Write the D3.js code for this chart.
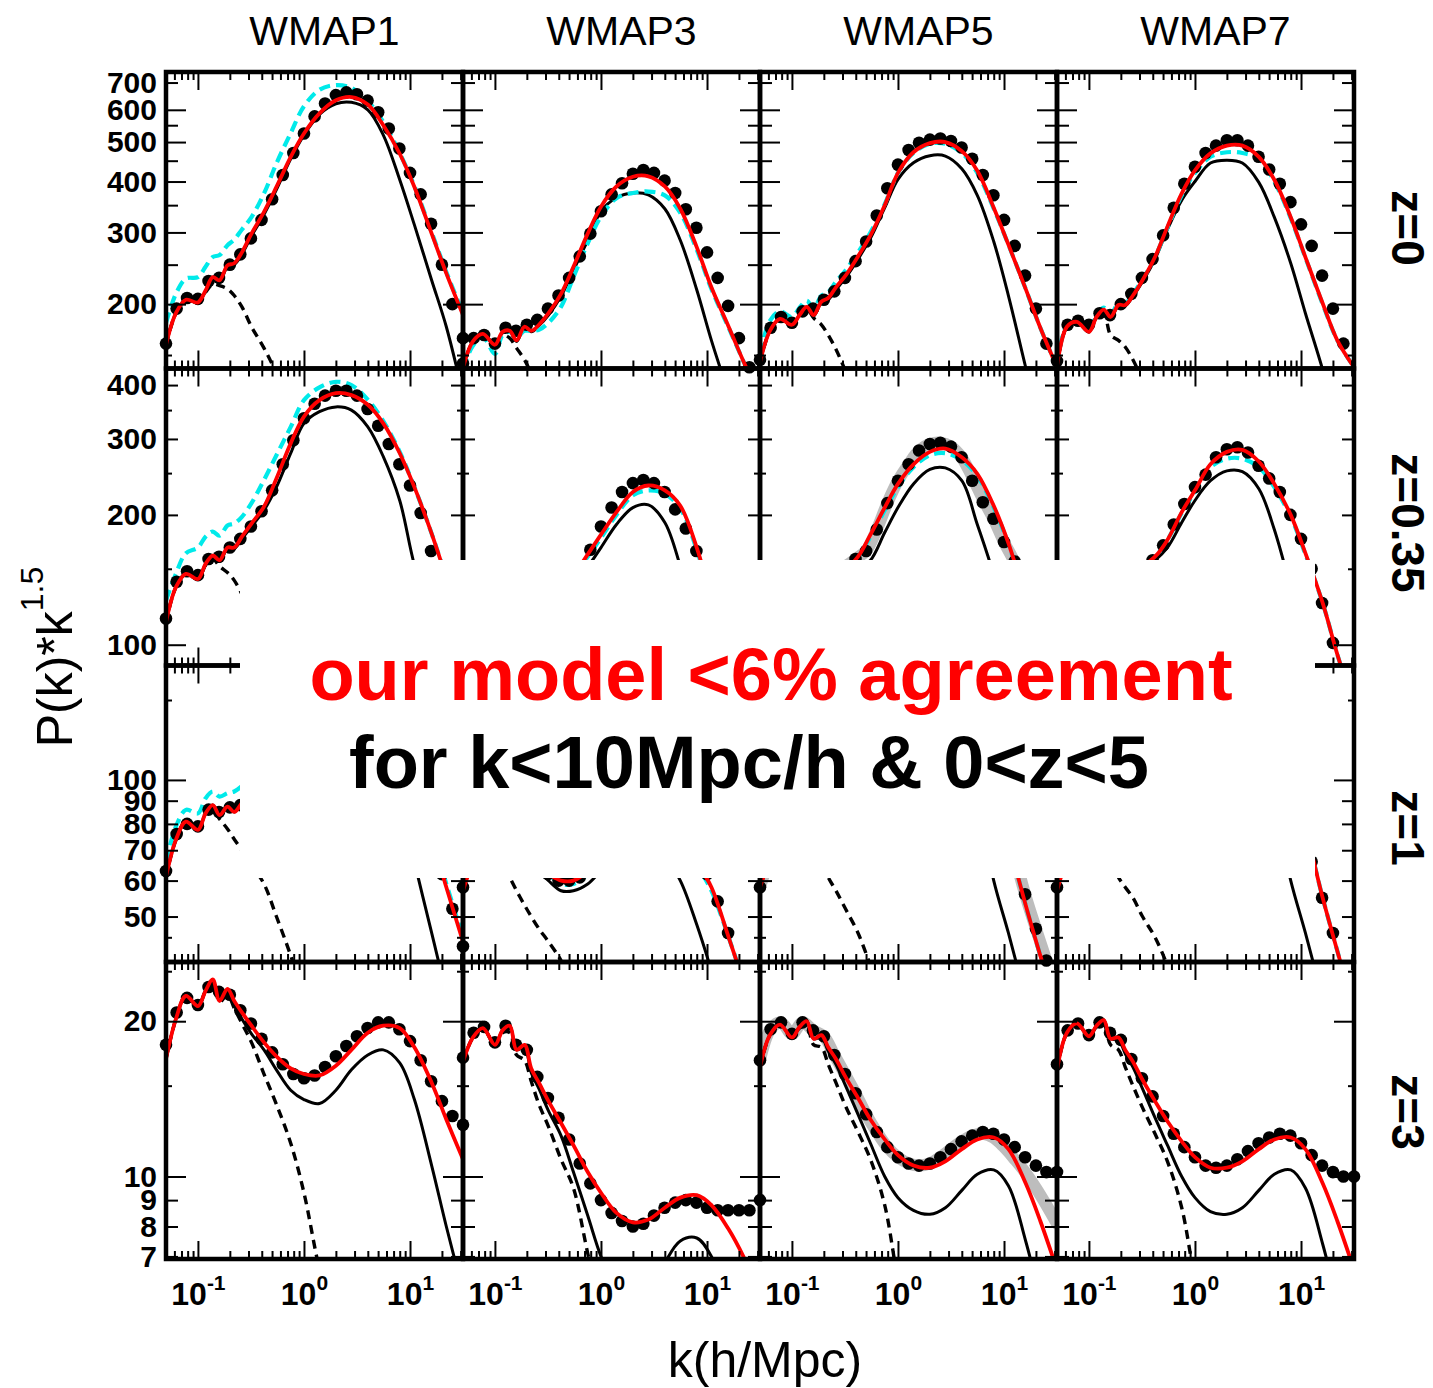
<!DOCTYPE html>
<html>
<head>
<meta charset="utf-8">
<script src="https://cdn.jsdelivr.net/npm/d3@7"></script>
<style>
  body { margin: 0; background: #fff; }
  svg { display: block; }
  text { font-family: "Liberation Sans", Arial, sans-serif; }
</style>
</head>
<body>
<svg id="chart" width="1433" height="1388"></svg>
<script>
// columns = cosmologies, rows = redshifts
const models = ["WMAP1", "WMAP3", "WMAP5", "WMAP7"];
const redshifts = ["z=0", "z=0.35", "z=1", "z=3"];

// k sampling (h/Mpc) for the curves and for the simulation points
const kGrid = [0.05, 0.062, 0.077, 0.1, 0.118, 0.138, 0.16, 0.19, 0.22, 0.26, 0.32, 0.42, 0.55, 0.75, 1, 1.4, 2, 2.8, 4, 5.6, 8, 11, 16, 22, 31.6];
const kDots = [0.05, 0.063, 0.079, 0.1, 0.126, 0.158, 0.2, 0.251, 0.316, 0.398, 0.501, 0.631, 0.794, 1, 1.26, 1.58, 2, 2.51, 3.16, 3.98, 5.01, 6.31, 7.94, 10, 12.6, 15.8, 20, 25.1, 31.6];

// axis ticks
const xMajor = [0.1, 1, 10];
const xMajorExp = ["-1", "0", "1"];
const xMinor = [0.06, 0.07, 0.08, 0.09, 0.2, 0.3, 0.4, 0.5, 0.6, 0.7, 0.8, 0.9, 2, 3, 4, 5, 6, 7, 8, 9, 20, 30];
const yDomains = [[139, 743], [89.5, 437], [39.7, 178.7], [6.92, 26.05]];
const yTickLabels = [[200, 300, 400, 500, 600, 700], [100, 200, 300, 400], [50, 60, 70, 80, 90, 100], [7, 8, 9, 10, 20]];
const yTickLong = [[200, 300, 400, 500, 600], [100], [100], [10, 20]];
const yTickMid = [[250, 350, 450, 550, 700], [200, 300, 400], [50, 60, 70, 80, 90], [7, 8, 9]];
const yTickShort = [[150], [150, 250, 350], [45, 150], [15, 25]];

// ---- z = 0 ----
const redZ0 = [
  [159,190,205,202,216,233,229,249,252,268,298,337,388,460,525,588,633,645,618,550,468,388,298,238,188],
  [139.5,162,169,159,171,172,163,176,172,178,190,212,247,298,347,389,411,412,389,343,276,220,176,145,118],
  [144,172,184,178,188,197,188,203,207,220,235,262,295,350,420,472,497,500,475,425,345,280,218,175,140],
  [141,176,181,171,186,194,186,199,199,210,229,261,310,374,426,469,490,490,460,404,327,261,201,163,140]
];
const blackZ0 = [
  [159,190,205,202,215,231,228,247,250,265,294,332,382,455,520,585,621,626,600,520,404,313,229,176,120],
  [139.5,162,169,159,170,171,162,175,171,177,188,209,242,287,338,365,375,371,343,287,217,163,120,90,60],
  [144,172,184,178,188,196,187,202,205,217,232,258,290,345,405,445,463,462,430,370,285,210,140,100,65],
  [141,176,181,171,186,193,185,198,198,209,227,258,305,360,400,444,451,444,398,327,252,190,138,100,65]
];
const linZ0 = [
  [159,190,205,202,214,224,222,218,210,197,176,156,135,110,90,70,52,38,27,18,12,8,5,3.5,2.4],
  [139.5,162,169,159,168,165,156,146,135,122,108,92,78,64,52,40,30,22,16,11,7.5,5,3.4,2.4,1.6],
  [144,172,184,178,188,195,185,178,168,155,137,115,96,78,63,48,36,26,18,12.5,8.5,6,4,2.8,1.9],
  [141,176,181,171,186,190,168,163,157,146,130,110,92,75,61,47,35,26,18,12,8,5.5,3.8,2.6,1.8]
];
const cyanZ0 = [
  [180,212,231,233,247,261,264,279,288,305,327,374,443,526,612,672,690,679,630,560,470,390,300,240,190],
  [139,158,166,151,168,171,166,172,172,173,180,197,233,282,328,364,375,378,370,335,272,218,175,145,118],
  [151,182,192,186,196,204,195,210,214,227,242,268,300,352,420,470,495,495,470,420,343,280,218,175,140],
  [143,178,184,174,189,196,189,201,201,212,230,261,308,370,420,460,472,470,455,400,325,260,200,163,140]
];
const dotsZ0 = [
  [160,195,207,206,228,232,250,265,290,322,362,415,470,525,578,622,652,662,655,632,592,540,482,420,372,315,250,200,165],
  [143,165,168,160,175,172,178,183,195,210,232,262,298,338,372,396,418,427,420,402,375,342,308,268,232,198,165,140,120],
  [146,175,186,180,192,195,205,215,232,255,285,330,385,440,478,498,507,510,503,485,455,415,370,322,278,235,195,160,135],
  [145,178,182,178,190,188,200,212,232,258,295,345,395,435,470,490,505,505,490,460,428,395,356,314,278,235,195,160,135]
];

// ---- z = 0.35 ----
const redZ035 = [
  [112.8,136,146,142,154,161,157,168,168,178,191,209,243,293,338,369,383,379,360,326,278,232,181,143,110],
  [99,115,120,113,121,122,116,125,122,126,130,137,145,162,180,203,226,234,228,210,168,128,95,76,60],
  [102,124,132,127,134,139,133,142,143,148,150,160,180,208,236,262,280,285,272,249,210,172,128,100,78],
  [101,125,129,123,133,138,133,142,142,148,152,160,175,203,228,262,280,283,266,236,200,163,125,95,72]
];
const blackZ035 = [
  [112.8,136,146,142,153,160,156,167,167,176,188,205,232,278,326,347,356,350,320,273,216,153,115,85,60],
  [99,115,120,113,121,122,116,125,122,126,129,135,142,152,168,190,208,211,192,152,110,80,58,44,33],
  [102,124,132,127,134,138,132,141,142,146,146,150,157,182,208,236,255,257,240,190,145,105,72,53,39],
  [101,125,129,123,133,137,132,141,141,147,150,157,168,192,216,240,253,252,230,185,135,98,68,50,37]
];
const linZ035 = [
  [112.8,136,146,142,153,158,152,147,141,131,118,102,85,68,55,42,31,23,16,11,7.5,5,3.5,2.4,1.6],
  [99,115,120,113,120,118,112,106,98,88,78,66,55,45,36,28,21,15,11,7.5,5,3.4,2.3,1.6,1.1],
  [102,124,132,127,134,135,128,122,115,105,92,80,67,55,44,34,25,18,13,9,6,4,2.8,1.9,1.3],
  [101,125,129,123,133,134,126,120,113,103,90,78,65,53,43,33,24,18,13,9,6,4,2.8,1.9,1.3]
];
const cyanZ035 = [
  [126.7,146,163,168,178,183,179,189,191,198,213,241,275,320,369,395,407,400,370,330,280,232,181,143,110],
  [99,115,120,113,121,122,116,125,122,126,130,137,145,160,177,200,222,228,224,207,166,127,95,76,60],
  [104,126,134,129,136,141,135,144,145,150,151,160,178,205,232,258,275,278,268,246,208,171,128,100,78],
  [102,126,130,124,134,139,134,143,143,149,152,160,175,202,226,258,270,270,258,232,198,162,125,95,72]
];
const dotsZ035 = [
  [115,140,148,145,158,160,168,176,188,204,228,262,298,335,362,378,388,388,378,352,322,292,262,234,202,165,138,115,95],
  [100,116,120,114,122,118,124,124,128,133,140,148,166,188,208,226,237,241,237,226,206,186,165,142,120,100,84,70,60],
  [105,130,136,132,140,140,146,150,152,158,165,185,213,240,262,282,292,294,288,272,240,214,196,173,156,132,110,92,78],
  [100,126,130,126,135,136,142,146,150,157,170,190,212,232,248,272,284,287,279,260,243,226,200,176,150,125,101,85,72]
];
const bandZ035 = [105,130,136,132,140,140,146,150,152,158,165,185,213,240,262,282,292,294,288,272,245,218,196,173,155,132,110,92,78];

// ---- z = 1 ----
const redZ1 = [
  [61.2,73.8,80.9,77.6,84.4,88,83.7,87.3,85,89,95,103,115,130,143,152,157,155,146,131,112,93,75,58,44],
  [57,65,68,64,67,68,65,67,65,64,62,60,60,63,68,74,79,82,80,75,66,58,45,36,28],
  [58,66,70,68,71,74,72,76,77,80,84,92,102,115,128,139,146,147,140,125,102,74,53,41,31],
  [57,66,70,66,71,73,70,75,75,78,83,90,100,113,126,137,144,145,138,122,98,78,55,42,31]
];
const blackZ1 = [
  [61.2,73.8,80.9,77.6,84.4,88,83.7,87.3,85,89,94,101,112,125,136,143,146,143,132,114,90,66,46,34,25],
  [57,65,68,64,67,68,65,67,64,63,60,57,57,59,63,67,70,71,68,60,48,38,28,22,17],
  [58,66,70,68,71,74,72,76,77,79,83,90,98,108,118,126,130,128,117,90,60,46,33,25,19],
  [57,66,70,66,71,73,70,75,75,78,82,88,97,107,117,125,128,126,115,88,60,46,33,25,19]
];
const linZ1 = [
  [61.2,73.8,80.9,77.6,84.4,86,82,78,74,70,65,59,50,41,33,25,18,13,9,6.5,4.5,3,2,1.4,1],
  [57,65,68,64,66,61,57,53,50,47,44,40,35,29,24,18,13,9.5,7,5,3.5,2.5,1.7,1.2,0.9],
  [58,66,70,68,71,73,69,66,61,57,52,46,39,32,26,20,14,10,7.5,5,3.5,2.5,1.7,1.2,0.9],
  [57,66,70,66,71,72,67,61,58,55,50,45,39,32,26,20,14,10,7.5,5,3.5,2.5,1.7,1.2,0.9]
];
const cyanZ1 = [
  [66,78.9,85.9,84.4,91.1,94.3,91.9,93.5,94.3,97,102,110,121,134,146,154,159,157,148,133,114,95,76,59,45],
  [57,66,69,65,68,69,66,68,66,64,62,59,59,62,67,73,78,81,79,74,65,57,45,36,28],
  [59,68,72,70,73,76,74,78,79,82,86,93,103,115,127,138,144,145,138,124,102,74,53,41,31],
  [58,67,71,67,72,74,71,76,76,79,84,91,101,113,125,136,142,143,137,121,98,78,55,42,31]
];
const dotsZ1 = [
  [63,76,80,79,86,85,87,88,94,101,112,126,138,148,154,158,159,156,150,140,128,115,102,90,80,70,62,52,43],
  [58,66,68,65,68,66,67,64,62,60,60,61,64,69,74,78,82,84,84,82,78,73,67,62,54,46,39,33,28],
  [58,67,71,69,73,73,77,80,85,91,99,110,120,131,140,146,150,152,150,144,134,120,100,82,68,56,47,40,34],
  [58,67,70,67,72,71,75,78,83,89,97,107,118,129,138,144,148,150,148,142,132,118,100,82,66,55,46,39,33]
];
const bandZ1 = [58,67,71,69,73,73,77,80,85,91,99,110,120,131,140,146,150,152,150,144,134,120,100,82,68,56,47,40,34];

// ---- z = 3 ----
const redZ3 = [
  [16.9,20.2,22.4,21.4,22.9,24.1,21.9,23.1,21.9,20.8,19.6,18.2,17.1,16.2,15.8,15.7,16.4,17.6,19.0,19.6,19.4,17.8,15.2,12.9,10.8],
  [16.7,18.6,19.4,18.0,19.2,19.6,17.6,18.0,16.2,15.2,14.0,12.7,11.5,10.2,9.3,8.5,8.15,8.25,8.7,9.1,9.2,8.8,7.9,7.0,5.9],
  [16.3,18.8,19.7,18.6,19.5,20.0,18.5,18.8,17.8,16.9,15.6,14.2,12.9,11.8,11.0,10.5,10.4,10.7,11.3,11.8,11.9,11.3,9.7,8.2,6.6],
  [16.1,19.0,19.8,18.7,19.6,20.1,18.5,18.6,17.6,16.7,15.4,14.0,12.8,11.7,10.9,10.4,10.4,10.7,11.3,11.8,11.9,11.3,9.7,8.2,6.6]
];
const blackZ3 = [
  [16.9,20.2,22.4,21.4,22.9,24.1,21.9,22.9,21.5,20.2,18.9,17.6,16.1,14.7,14.1,13.85,14.7,16.1,17.2,17.6,16.6,14.1,10.5,8.0,6.0],
  [16.7,18.6,19.4,18.0,19.2,19.6,17.6,17.8,15.9,14.8,13.4,12.0,10.2,8.4,7.0,6.0,5.6,5.9,6.8,7.5,7.6,7.0,5.7,4.5,3.5],
  [16.3,18.8,19.7,18.6,19.5,20.0,18.5,18.6,17.5,16.5,15.0,13.2,11.6,10.0,9.1,8.6,8.45,8.7,9.4,10.1,10.3,9.6,7.5,5.8,4.3],
  [16.1,19.0,19.8,18.7,19.6,20.1,18.5,18.4,17.3,16.3,14.8,13.0,11.5,10.0,9.1,8.55,8.45,8.7,9.4,10.1,10.3,9.5,7.4,5.7,4.2]
];
const linZ3 = [
  [16.9,20.2,22.4,21.4,22.9,23.8,21.8,22.5,21.2,19.8,18.2,15.8,13.8,11.6,9.3,6.6,5.0,3.8,2.8,2.1,1.5,1.1,0.8,0.6,0.45],
  [16.7,18.6,19.4,18.0,19.0,19.0,17.2,16.8,15.3,13.8,12.5,10.8,9.5,7.1,5.5,4.0,3.0,2.2,1.6,1.2,0.9,0.65,0.5,0.35,0.25],
  [16.3,18.8,19.7,18.6,19.4,19.6,18.0,17.8,16.5,15.2,13.7,12.2,10.8,8.8,6.3,4.6,3.4,2.5,1.8,1.3,0.95,0.7,0.5,0.35,0.25],
  [16.1,19.0,19.8,18.7,19.5,19.7,18.0,17.6,16.3,15.0,13.6,12.1,10.7,8.7,6.3,4.6,3.4,2.5,1.8,1.3,0.95,0.7,0.5,0.35,0.25]
];
const dotsZ3 = [
  [18,20.8,22.2,21.5,23.3,22.8,22.5,21,19.8,18.5,17.4,16.5,15.8,15.5,15.7,16.3,17.1,17.9,18.7,19.4,19.9,19.9,19.3,18.3,16.8,15.3,14,13.1,12.6],
  [17,19.0,19.5,18.2,19.6,18,17.6,15.6,14.2,13.0,11.8,10.6,9.7,9.0,8.5,8.2,8.0,8.1,8.4,8.7,8.9,9.0,8.9,8.7,8.6,8.6,8.6,8.6,9.0],
  [16.8,19.3,19.9,18.9,19.9,19.2,18.7,17.2,15.8,14.5,13.2,12.2,11.4,10.9,10.6,10.5,10.6,10.9,11.3,11.7,12.0,12.2,12.1,11.8,11.4,10.9,10.5,10.2,10.2],
  [16.5,19.2,19.8,18.8,19.9,19.0,18.4,16.9,15.5,14.3,13.1,12.1,11.4,10.9,10.5,10.4,10.5,10.8,11.2,11.6,11.9,12.1,12.0,11.6,11.0,10.5,10.2,10.0,10.0]
];
const bandZ3 = [16.8,19.3,19.9,18.9,19.9,19.2,18.7,17.2,15.8,14.5,13.2,12.2,11.4,10.9,10.6,10.5,10.6,10.9,11.3,11.7,12.0,12.1,11.9,11.4,10.8,10.2,9.5,8.8,8.1];

// table of the rows, built from the arrays above
const rows = [
  { red: redZ0, black: blackZ0, lin: linZ0, cyan: cyanZ0, dots: dotsZ0, band: null },
  { red: redZ035, black: blackZ035, lin: linZ035, cyan: cyanZ035, dots: dotsZ035, band: bandZ035 },
  { red: redZ1, black: blackZ1, lin: linZ1, cyan: cyanZ1, dots: dotsZ1, band: bandZ1 },
  { red: redZ3, black: blackZ3, lin: linZ3, cyan: null, dots: dotsZ3, band: bandZ3 }
];

var svg = d3.select("#chart");
var colX = [166, 463, 760, 1057], colW = 297;
var rowTop = [72, 368.5, 665.5, 962, 1259];

var curves = svg.append("g"), frames = svg.append("g");

rows.forEach(function(row, r) {
  models.forEach(function(m, c) {
    var x = d3.scaleLog().domain([0.05, 31.6]).range([colX[c], colX[c] + colW]);
    var y = d3.scaleLog().domain(yDomains[r]).range([rowTop[r + 1], rowTop[r]]);
    var id = "clip" + r + c;
    svg.append("clipPath").attr("id", id).append("rect")
      .attr("x", colX[c]).attr("y", rowTop[r]).attr("width", colW).attr("height", rowTop[r + 1] - rowTop[r]);

    var smooth = d3.curveCatmullRom.alpha(0.5);
    var line = d3.line().x(function(d, i) { return x(kGrid[i]); }).y(function(d) { return y(d); }).curve(smooth);
    var lineDots = d3.line().x(function(d, i) { return x(kDots[i]); }).y(function(d) { return y(d); }).curve(smooth);

    var under = curves.append("g").attr("clip-path", "url(#" + id + ")");
    // grey band only for WMAP5
    if (c === 2 && row.band) {
      under.append("path").datum(row.band).attr("d", lineDots)
        .attr("fill", "none").attr("stroke", "#bdbdbd").attr("stroke-width", 12).attr("stroke-linecap", "round");
    }
    under.append("path").datum(row.lin[c]).attr("d", line)
      .attr("fill", "none").attr("stroke", "#000").attr("stroke-width", 3.4).attr("stroke-dasharray", "9,6");
    under.append("path").datum(row.black[c]).attr("d", line)
      .attr("fill", "none").attr("stroke", "#000").attr("stroke-width", 3);
    if (row.cyan) {
      under.append("path").datum(row.cyan[c]).attr("d", line)
        .attr("fill", "none").attr("stroke", "#00eaea").attr("stroke-width", 4.2).attr("stroke-dasharray", "11,6");
    }

    // simulation points
    var pts = row.dots[c].map(function(v, i) { return [kDots[i], v]; })
      .filter(function(d) { return d[1] >= yDomains[r][0] && d[1] <= yDomains[r][1]; });
    curves.append("g").selectAll("circle").data(pts).enter().append("circle")
      .attr("cx", function(d) { return x(d[0]); })
      .attr("cy", function(d) { return y(d[1]); })
      .attr("r", 6.3).attr("fill", "#000");

    // our model on top
    curves.append("g").attr("clip-path", "url(#" + id + ")")
      .append("path").datum(row.red[c]).attr("d", line)
      .attr("fill", "none").attr("stroke", "#ff0000").attr("stroke-width", 3.8);

    // inward ticks on all four sides
    var ax = frames.append("g");
    [[xMajor, 18], [xMinor, 8]].forEach(function(t) {
      ax.append("g").attr("transform", "translate(0," + rowTop[r + 1] + ")")
        .call(d3.axisBottom(x).tickValues(t[0]).tickSize(-t[1]).tickFormat(""));
      ax.append("g").attr("transform", "translate(0," + rowTop[r] + ")")
        .call(d3.axisTop(x).tickValues(t[0]).tickSize(-t[1]).tickFormat(""));
    });
    [[yTickLong[r], 20], [yTickMid[r], 12], [yTickShort[r], 6]].forEach(function(t) {
      ax.append("g").attr("transform", "translate(" + colX[c] + ",0)")
        .call(d3.axisLeft(y).tickValues(t[0]).tickSize(-t[1]).tickFormat(""));
      ax.append("g").attr("transform", "translate(" + (colX[c] + colW) + ",0)")
        .call(d3.axisRight(y).tickValues(t[0]).tickSize(-t[1]).tickFormat(""));
    });
    ax.selectAll(".domain").remove();
    ax.selectAll("line").attr("stroke", "#000").attr("stroke-width", 2);

    frames.append("rect")
      .attr("x", colX[c]).attr("y", rowTop[r]).attr("width", colW).attr("height", rowTop[r + 1] - rowTop[r])
      .attr("fill", "none").attr("stroke", "#000").attr("stroke-width", 4.5);

    // y tick labels on the first column
    if (c === 0) {
      var yl = frames.append("g").attr("transform", "translate(" + colX[0] + ",0)")
        .call(d3.axisLeft(y).tickValues(yTickLabels[r]).tickSize(0).tickPadding(9).tickFormat(d3.format("d")));
      yl.select(".domain").remove();
      yl.selectAll("text").attr("font-size", 30).attr("font-weight", "bold").attr("fill", "#000");
    }
    // x tick labels on the bottom row
    if (r === 3) {
      var xl = frames.append("g").attr("transform", "translate(0," + rowTop[4] + ")")
        .call(d3.axisBottom(x).tickValues(xMajor).tickSize(0).tickFormat(""));
      xl.select(".domain").remove();
      xl.selectAll(".tick text").attr("y", 46).attr("dy", null)
        .attr("font-size", 32).attr("font-weight", "bold").attr("fill", "#000")
        .each(function(d, i) {
          var t = d3.select(this);
          t.append("tspan").text("10");
          t.append("tspan").attr("dy", -15).attr("font-size", 21).text(xMajorExp[i]);
        });
    }
  });
});

// column titles
svg.append("g").selectAll("text").data(models).enter().append("text")
  .attr("x", function(d, i) { return colX[i] + colW / 2 + 10; })
  .attr("y", 45).attr("text-anchor", "middle").attr("font-size", 41).text(function(d) { return d; });

// redshift labels on the right
var zY = [228, 523, 828, 1112];
svg.append("g").selectAll("text").data(redshifts).enter().append("text")
  .attr("transform", function(d, i) { return "translate(1408," + zY[i] + ") rotate(90)"; })
  .attr("text-anchor", "middle").attr("dy", "0.35em")
  .attr("font-size", 46).attr("font-weight", "bold").text(function(d) { return d; });

// axis titles
svg.append("text").attr("x", 765).attr("y", 1377).attr("text-anchor", "middle")
  .attr("font-size", 50).text("k(h/Mpc)");
var yTitle = svg.append("text").attr("transform", "translate(72,657) rotate(-90)")
  .attr("text-anchor", "middle").attr("font-size", 50);
yTitle.append("tspan").text("P(k)*k");
yTitle.append("tspan").attr("dy", -29).attr("font-size", 32).text("1.5");

// white box with the claim
svg.append("rect").attr("x", 240).attr("y", 560).attr("width", 1075).attr("height", 318).attr("fill", "#fff");
svg.append("text").attr("x", 771).attr("y", 700).attr("text-anchor", "middle")
  .attr("font-size", 74).attr("font-weight", "bold").attr("fill", "#ff0000")
  .text("our model <6% agreement");
svg.append("text").attr("x", 749).attr("y", 788).attr("text-anchor", "middle")
  .attr("font-size", 74).attr("font-weight", "bold").attr("fill", "#000")
  .text("for k<10Mpc/h & 0<z<5");
</script>
</body>
</html>
